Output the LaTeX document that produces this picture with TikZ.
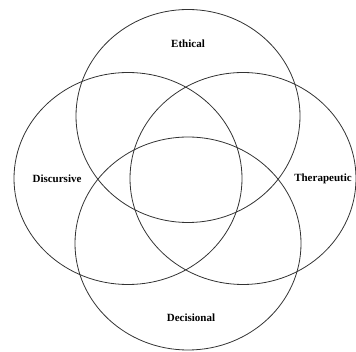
\documentclass[tikz,border=0pt]{standalone}
\usepackage{fontspec}
\setmainfont{Liberation Serif}
\begin{document}
\begin{tikzpicture}[x=1pt,y=-1pt,
  ring/.style={draw=black!80,line width=0.8pt},
  lbl/.style={font=\fontsize{11}{13}\selectfont\bfseries,inner sep=0pt}]
\useasboundingbox (0,0) rectangle (356,352);
\draw[ring] (188,116) ellipse [x radius=112, y radius=106.5];
\draw[ring] (128,178.5) ellipse [x radius=114, y radius=106];
\draw[ring] (243,178.5) ellipse [x radius=113, y radius=106];
\draw[ring] (188,243.5) ellipse [x radius=113, y radius=106.5];
\node[lbl] (eth) at (188,44) {Ethical};
\node[lbl] (dis) at (57,179) {Discursive};
\node[lbl] (the) at (323,179) {Therapeutic};
\node[lbl] (dec) at (191,318) {Decisional};
\end{tikzpicture}
\end{document}
